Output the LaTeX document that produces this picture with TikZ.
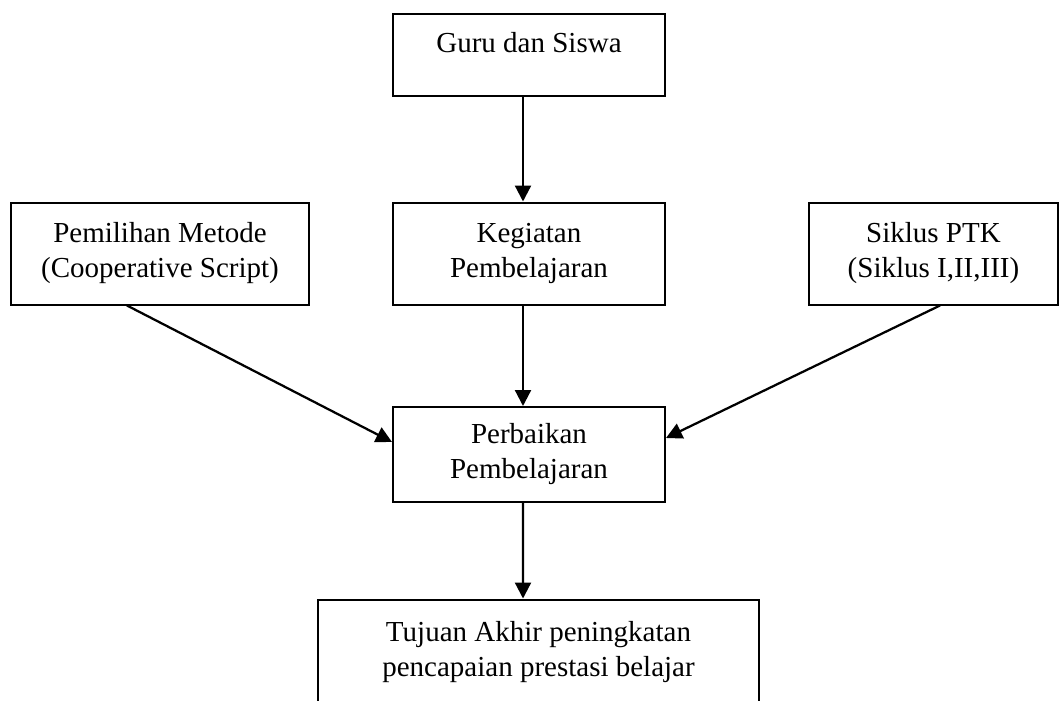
\documentclass[tikz,border=0pt]{standalone}
\usepackage{fontspec}
\setmainfont{Liberation Serif}
\usetikzlibrary{arrows.meta}

\begin{document}
\begin{tikzpicture}[x=0.4pt,y=-0.4pt,
		box/.style = {draw, line width=0.8pt, align=center, inner sep=2pt, font=\fontsize{11.6}{14}\selectfont},
		arr/.style = {line width=0.9pt, -{Triangle[length=6.4pt,width=6.4pt]}}]
		\useasboundingbox (0, 0) rectangle (1059, 700);
		%%%%%%%%%%%%%
		\node[box, minimum width=108.8pt, minimum height=32.8pt, text depth=10pt] (a) at (529, 55) {Guru dan Siswa};
		\node[box, minimum width=108.8pt, minimum height=40.8pt] (b) at (529, 253.5) {Kegiatan\\Pembelajaran};
		\node[box, minimum width=119.2pt, minimum height=40.8pt] (c) at (160, 253.5) {Pemilihan Metode\\(Cooperative Script)};
		\node[box, minimum width=99.6pt, minimum height=40.8pt] (d) at (933.5, 253.5) {Siklus PTK\\(Siklus I,II,III)};
		\node[box, minimum width=108.8pt, minimum height=38pt] (e) at (529, 454.5) {Perbaikan\\Pembelajaran};
		\node[box, minimum width=176.4pt, minimum height=42pt] (f) at (538.5, 652) {Tujuan Akhir peningkatan\\pencapaian prestasi belajar};
		%%%%%%%%%%%%%
		\draw [arr] ([xshift=-2.4pt]a.south) to ([xshift=-2.4pt]b.north);
		\draw [arr] ([xshift=-2.4pt]b.south) to ([xshift=-2.4pt]e.north);
		\draw [arr] ([xshift=-13.2pt]c.south) to ([yshift=5pt]e.west);
		\draw [arr] ([xshift=2.6pt]d.south) to ([yshift=6.6pt]e.east);
		\draw [arr] ([xshift=-2.4pt]e.south) to ([xshift=-6.2pt]f.north);
	\end{tikzpicture}
\end{document}
